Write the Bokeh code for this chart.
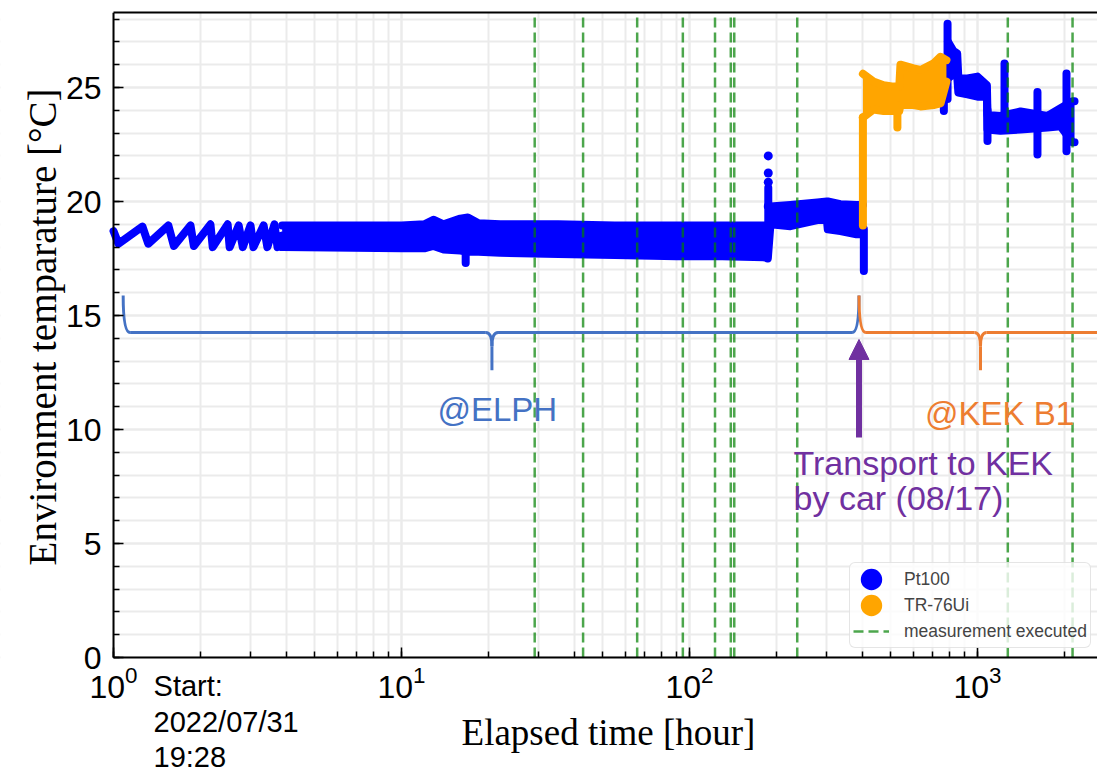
import math
from bokeh.plotting import figure
from bokeh.models import (Range1d, LinearAxis, FixedTicker, SingleIntervalTicker, BoxAnnotation,
                          Legend, LegendItem, Label, Arrow, NormalHead, ColumnDataSource)
from bokeh.embed import file_html
from bokeh.resources import INLINE

# ---------------- data (elapsed hours, temperature in degC) ----------------
# Pt100: start-up oscillation of the air conditioner
pt_wave_t = [1.00, 1.04, 1.26, 1.32, 1.55, 1.62, 1.85, 1.90, 2.17, 2.21, 2.49, 2.53,
             2.72, 2.81, 2.99, 3.06, 3.32, 3.42, 3.62, 3.71, 3.85]
pt_wave_T = [18.7, 18.15, 18.9, 18.15, 18.95, 18.05, 18.95, 18.05, 19.0, 18.0, 19.0, 18.0,
             18.95, 18.0, 18.95, 18.0, 18.95, 18.0, 19.0, 18.0, 18.5]

# Pt100 at ELPH: min / max envelope of the fast fluctuation
pt_elph_t = [3.85, 10.0, 12.0, 12.9, 14.0, 16.0, 17.0, 18.5, 22.0, 35.0, 55.0, 90.0, 130.0, 186.0]
pt_elph_lo = [18.0, 17.95, 17.95, 18.05, 17.9, 17.85, 17.8, 17.8, 17.75, 17.7, 17.65, 17.6, 17.6, 17.55]
pt_elph_hi = [18.95, 18.95, 19.0, 19.2, 19.0, 19.25, 19.3, 19.05, 19.0, 19.0, 18.95, 18.95, 18.95, 18.95]

pt_elph2_t = [187.0, 191.0, 224.0, 278.0, 300.0, 302.0, 334.0, 380.0, 400.0]
pt_elph2_lo = [17.5, 19.0, 18.92, 19.19, 19.19, 18.78, 18.7, 18.56, 18.56]
pt_elph2_hi = [19.8, 19.78, 19.85, 19.96, 20.0, 20.0, 19.88, 19.85, 19.85]

# Pt100 at KEK B1
pt_kek_t = [790.0, 825.0, 850.0, 858.0, 923.0, 1000.0, 1078.0, 1083.0, 1202.0, 1410.0,
            1750.0, 1942.0, 2138.0, 2172.0]
pt_kek_lo = [25.4, 25.6, 25.5, 24.78, 24.7, 24.6, 24.6, 23.16, 23.1, 23.16, 23.25, 23.3, 22.6, 22.6]
pt_kek_hi = [27.0, 26.6, 26.5, 25.4, 25.4, 25.48, 25.1, 23.8, 23.75, 23.95, 23.75, 24.09, 24.4, 24.4]

# Pt100 short excursions and isolated readings
pt_spike_t = [16.7, 187.7, 403.0, 764.0, 787.0, 1083.0, 1241.0, 1615.0, 2037.0]
pt_spike_lo = [17.3, 18.8, 16.95, 23.97, 24.5, 22.65, 23.3, 22.06, 22.2]
pt_spike_hi = [18.3, 20.6, 18.8, 26.2, 27.8, 24.0, 26.05, 24.8, 25.62]
pt_dot_t = [187.7, 187.7, 187.7]
pt_dot_T = [22.0, 21.25, 20.85]

# TR-76Ui logger
tr_t = [400.0, 435.0, 472.0, 511.0, 535.0, 540.0, 600.0, 634.0, 704.0, 744.0, 780.0]
tr_lo = [23.68, 24.03, 23.97, 23.97, 23.97, 24.23, 24.23, 24.17, 24.23, 24.3, 25.26]
tr_hi = [25.6, 25.26, 25.1, 25.04, 25.04, 26.0, 25.84, 25.77, 26.06, 26.35, 26.2]
tr_spike_t = [400.0, 527.0]
tr_spike_lo = [18.95, 23.25]
tr_spike_hi = [23.7, 24.0]

# measurements executed (elapsed hours)
measure_t = [29.0, 42.7, 65.8, 94.8, 122.6, 139.1, 143.0, 236.6, 1274.0, 2138.0]

# site periods and transport
transport_t = 387.7
elph_start_t = 1.08
elph_mid_t = 20.6
kek_mid_t = 1024.0
kek_end_t = 5000.0

BLUE = "#0000ff"
ORANGE = "#ffa500"
GREEN = "#008000"
C_ELPH = "#4472c4"
C_KEK = "#ed7d31"
C_TRANS = "#7030a0"
SANS = "Liberation Sans"
SERIF = "Liberation Serif"

# axis extents; the frame also holds the margins, so that labels there are not clipped
T_MIN, T_MAX = 1, 2610
Y_MAX = 28.29
X_LO = 0.405    # left margin for the temperature axis labels
Y_MIN = -5.13   # bottom margin for the time axis labels and the start time

p = figure(width=1097, height=774, x_axis_type="log",
           x_range=Range1d(X_LO, T_MAX), y_range=Range1d(Y_MIN, Y_MAX),
           output_backend="svg", toolbar_location=None,
           min_border_left=0, min_border_right=0, min_border_top=12, min_border_bottom=0)
p.outline_line_color = None
p.background_fill_color = "white"
p.border_fill_color = "white"

# grids, masked outside the data area
for g in (p.xgrid, p.ygrid):
    g.grid_line_color = "#ebebeb"
    g.grid_line_width = 2
    g.minor_grid_line_color = "#ebebeb"
    g.minor_grid_line_width = 2
p.add_layout(BoxAnnotation(top=0, fill_color="white", fill_alpha=1, line_alpha=0, level="underlay"))
p.add_layout(BoxAnnotation(right=T_MIN, fill_color="white", fill_alpha=1, line_alpha=0, level="underlay"))

# axes drawn at the edges of the data area
p.yaxis.ticker = SingleIntervalTicker(interval=5, num_minor_ticks=5)
p.yaxis.bounds = (0, Y_MAX)
p.yaxis.fixed_location = T_MIN
p.xaxis.bounds = (T_MIN, T_MAX)
p.xaxis.fixed_location = 0
for ax in (p.xaxis, p.yaxis):
    ax.axis_line_width = 2
    ax.axis_line_color = "black"
    ax.major_tick_in = 10
    ax.major_tick_out = 0
    ax.minor_tick_in = 6
    ax.minor_tick_out = 0
    ax.major_tick_line_width = 1.5
    ax.minor_tick_line_width = 1.5
    ax.major_label_text_font = SANS
    ax.major_label_text_font_size = "32px"
    ax.major_label_text_color = "black"
p.yaxis.major_label_standoff = 12
p.xaxis.major_label_standoff = 8

# top frame edge
top = LinearAxis(ticker=FixedTicker(ticks=[]), major_label_text_font_size="0px",
                 axis_line_width=2, major_tick_in=0, major_tick_out=0,
                 minor_tick_in=0, minor_tick_out=0, bounds=(T_MIN, T_MAX))
p.add_layout(top, "above")

# axis titles
p.add_layout(Label(x=52.3, y=-3.30, text="Elapsed time [hour]", text_align="center",
                   text_baseline="alphabetic", text_font=SERIF, text_font_size="37px",
                   text_color="black"))
p.add_layout(Label(x=0.567, y=14.5, text="Environment temparature [°C]", angle=math.pi / 2,
                   text_align="center", text_baseline="middle", text_font=SERIF,
                   text_font_size="39px", text_color="black"))

# ---------------- Pt100 ----------------
MW = 8  # drawn width of the marker trail
# legend key renderer: zero-size dots with a wide outline (only the key shows them)
key_pt = p.scatter(pt_dot_t, pt_dot_T, marker="circle", size=0, line_width=11,
                   line_color=BLUE, fill_color=BLUE)
p.line(pt_wave_t, pt_wave_T, line_color=BLUE, line_width=MW, line_join="round", line_cap="round")
for t, lo, hi in ((pt_elph_t, pt_elph_lo, pt_elph_hi),
                  (pt_elph2_t, pt_elph2_lo, pt_elph2_hi),
                  (pt_kek_t, pt_kek_lo, pt_kek_hi)):
    p.varea(x=t, y1=lo, y2=hi, fill_color=BLUE)
    p.line(t, lo, line_color=BLUE, line_width=MW, line_join="round", line_cap="round")
    p.line(t, hi, line_color=BLUE, line_width=MW, line_join="round", line_cap="round")
p.segment(x0=pt_spike_t, y0=pt_spike_lo, x1=pt_spike_t, y1=pt_spike_hi,
          line_color=BLUE, line_width=MW, line_cap="round")
p.scatter(pt_dot_t, pt_dot_T, marker="circle", size=9, line_width=0, fill_color=BLUE)

# ---------------- TR-76Ui ----------------
key_tr = p.scatter(tr_spike_t, tr_spike_lo, marker="circle", size=0, line_width=11,
                   line_color=ORANGE, fill_color=ORANGE)
p.segment(x0=tr_spike_t, y0=tr_spike_lo, x1=tr_spike_t, y1=tr_spike_hi,
          line_color=ORANGE, line_width=MW, line_cap="round")
p.varea(x=tr_t, y1=tr_lo, y2=tr_hi, fill_color=ORANGE)
p.line(tr_t, tr_lo, line_color=ORANGE, line_width=MW, line_join="round", line_cap="round")
p.line(tr_t, tr_hi, line_color=ORANGE, line_width=MW, line_join="round", line_cap="round")

# ---------------- measurement markers ----------------
meas = p.segment(x0=measure_t, y0=[0] * len(measure_t), x1=measure_t, y1=[Y_MAX] * len(measure_t),
                 line_color=GREEN, line_alpha=0.7, line_width=2.5, line_dash="10 5")

# ---------------- site braces ----------------
def brace(t_left, t_mid, t_right, color, y_end=15.88, y_line=14.25, y_tip=12.6,
          hook=1.057, cusp=1.05, bend=0.6):
    q = dict(x0=[], y0=[], x1=[], y1=[], cx=[], cy=[])

    def quad(a, b, c):
        q["x0"].append(a[0]); q["y0"].append(a[1])
        q["x1"].append(b[0]); q["y1"].append(b[1])
        q["cx"].append(c[0]); q["cy"].append(c[1])

    quad((t_left, y_end), (t_left * hook, y_line), (t_left, y_line))
    quad((t_mid / cusp, y_line), (t_mid, y_line - bend), (t_mid, y_line))
    quad((t_mid * cusp, y_line), (t_mid, y_line - bend), (t_mid, y_line))
    quad((t_right / hook, y_line), (t_right, y_end), (t_right, y_line))
    p.quadratic(source=ColumnDataSource(q), x0="x0", y0="y0", x1="x1", y1="y1",
                cx="cx", cy="cy", line_color=color, line_width=3)
    p.segment(x0=[t_left * hook, t_mid * cusp, t_mid], y0=[y_line, y_line, y_line - bend],
              x1=[t_mid / cusp, t_right / hook, t_mid], y1=[y_line, y_line, y_tip],
              line_color=color, line_width=3)

brace(elph_start_t, elph_mid_t, transport_t, C_ELPH)
brace(transport_t, kek_mid_t, kek_end_t, C_KEK)

p.add_layout(Label(x=21.5, y=10.86, text="@ELPH", text_align="center",
                   text_baseline="alphabetic", text_font=SANS, text_font_size="33px",
                   text_color=C_ELPH))
p.add_layout(Label(x=1192, y=10.72, text="@KEK B1", text_align="center",
                   text_baseline="alphabetic", text_font=SANS, text_font_size="33px",
                   text_color=C_KEK))

p.add_layout(Arrow(end=NormalHead(size=20, fill_color=C_TRANS, line_color=C_TRANS),
                   x_start=transport_t, y_start=9.65, x_end=transport_t, y_end=13.95,
                   line_color=C_TRANS, line_width=6))
for text, y in (("Transport to KEK", 8.53), ("by car (08/17)", 6.98)):
    p.add_layout(Label(x=229.7, y=y, text=text, text_align="left",
                       text_baseline="alphabetic", text_font=SANS,
                       text_font_size="34px", text_color=C_TRANS))

# start time of the record, below the time axis
for text, y in (("Start:", -1.27), ("2022/07/31", -2.81), ("19:28", -4.35)):
    p.add_layout(Label(x=1.377, y=y, text=text, text_align="left",
                       text_baseline="alphabetic", text_font=SANS,
                       text_font_size="29px", text_color="black"))

# ---------------- legend ----------------
legend = Legend(items=[LegendItem(label="Pt100", renderers=[key_pt]),
                       LegendItem(label="TR-76Ui", renderers=[key_tr]),
                       LegendItem(label="measurement executed", renderers=[meas])],
                location=(849, 126), glyph_width=36, glyph_height=26, label_height=26,
                spacing=0, padding=3, margin=0, label_standoff=15,
                label_text_font=SANS, label_text_font_size="17.5px",
                border_line_color="#cccccc", border_line_width=1.5, border_radius=6,
                background_fill_color="white", background_fill_alpha=0.8)
p.add_layout(legend)

open("out.html", "w").write(file_html(p, INLINE))
